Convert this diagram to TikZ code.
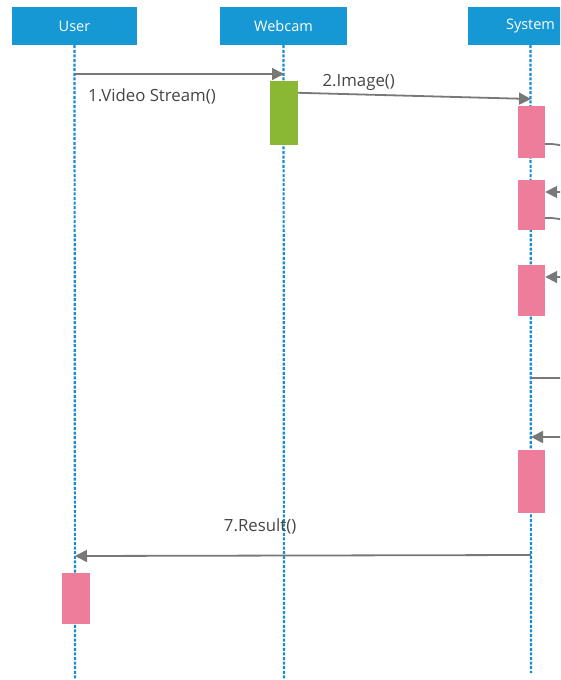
\documentclass[tikz,border=0pt]{standalone}
\usepackage{fontspec}
\setmainfont{Open Sans}
\usetikzlibrary{arrows.meta, positioning}
\usepackage{xcolor}
\definecolor{headblue}{RGB}{22,152,212}
\definecolor{lifeblue}{RGB}{24,140,210}
\definecolor{actpink}{RGB}{238,125,155}
\definecolor{camgreen}{RGB}{138,184,52}
\definecolor{msggray}{RGB}{120,120,120}
\definecolor{lblgray}{RGB}{70,70,70}

\begin{document}
\begin{tikzpicture}[
  x=1pt, y=-1pt,
  head/.style={rectangle, fill=headblue, text=white, minimum height=38pt, inner sep=0pt, font=\fontsize{14.5}{16}\selectfont},
  life/.style={draw=lifeblue, line width=2.2pt, dash pattern=on 3pt off 1.6pt},
  act/.style={rectangle, fill=actpink, minimum width=27pt, inner sep=0pt},
  msg/.style={draw=msggray, line width=1.8pt, -{Triangle[length=12pt,width=12pt]}},
  line/.style={draw=msggray, line width=1.8pt},
  lbl/.style={text=lblgray, inner sep=0pt, font=\fontsize{16.8}{18}\selectfont},
  >=Latex
]
\clip (0,0) rectangle (560,680);
\fill[white] (0,0) rectangle (560,680);

\node[head, minimum width=125pt] (user) at (74.5,26) {User};
\node[head, minimum width=127pt] (cam) at (283.5,26) {Webcam};
\node[head, minimum width=126pt] (sys) at (530.5,26) {System};

\coordinate (userend) at (75,680);
\coordinate (camend) at (284,680);
\coordinate (sysend) at (531,673);
\draw[life] (user.south) -- (userend);
\draw[life] (cam.south) -- (camend);
\draw[life] (sys.south) -- (sysend);

\node[act, fill=camgreen, minimum width=28pt, minimum height=64pt] (ca) at (284,113) {};
\node[act, minimum height=52pt] (sa1) at (531.5,132) {};
\node[act, minimum height=50pt] (sa2) at (531.5,205) {};
\node[act, minimum height=51pt] (sa3) at (531.5,290.5) {};
\node[act, minimum height=63pt] (sa4) at (531.5,481.5) {};
\node[act, minimum width=28pt, minimum height=51pt] (ua) at (76,598.5) {};

\coordinate (u1) at (75,74);
\coordinate (c1) at (284,74);
\coordinate (s2) at (531,99);
\coordinate (s7) at (531,555);
\coordinate (u7) at (75,556);
\coordinate (s5) at (531,378);
\coordinate (s6) at (531,437);
\coordinate (r1) at (575,150);
\coordinate (r2) at (575,192);
\coordinate (r3) at (575,224);
\coordinate (r4) at (575,277);
\coordinate (r5) at (575,378);
\coordinate (r6) at (575,437);

\draw[msg] (u1) -- node[pos=0, lbl, xshift=77pt, yshift=-22pt] {1.Video Stream()} (c1);
\draw[msg] ([yshift=-12pt]ca.north east) -- node[pos=0.26, lbl, yshift=12pt] {2.Image()} (s2);

\draw[line] ([yshift=-12pt]sa1.east) .. controls +(12,0) .. (r1);
\draw[msg] (r2) -- (sa2.east |- r2);
\draw[line] ([yshift=-13pt]sa2.east) .. controls +(12,0) .. (r3);
\draw[msg] (r4) -- (sa3.east |- r4);
\draw[line] (s5) -- (r5);
\draw[msg] (r6) -- (s6);

\draw[msg] (s7) -- node[pos=0.594, lbl, yshift=29pt] {7.Result()} (u7);
\end{tikzpicture}
\end{document}
